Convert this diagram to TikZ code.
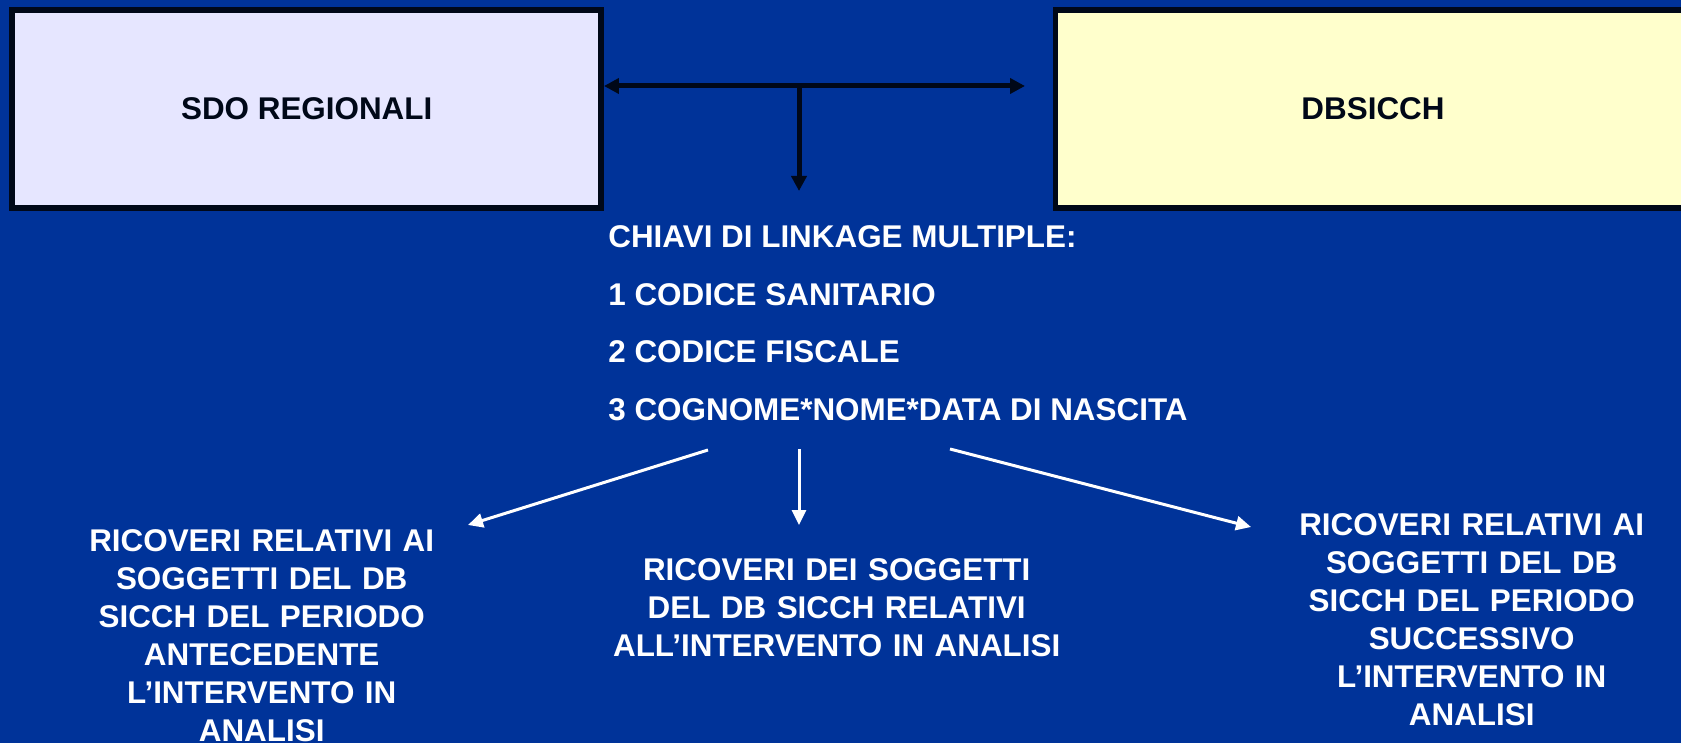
\documentclass[tikz,border=0pt]{standalone}
\usepackage{fontspec}
\setmainfont{Liberation Sans}
\usetikzlibrary{arrows.meta}
\definecolor{bgblue}{RGB}{0,51,153}
\definecolor{boxline}{RGB}{0,8,24}
\definecolor{lavender}{RGB}{230,230,255}
\definecolor{paleyellow}{RGB}{255,255,204}
\begin{document}
\begin{tikzpicture}[x=0.5pt,y=-0.5pt,
  font=\bfseries\fontsize{15.7}{19}\selectfont,
  dbbox/.style={draw=boxline, line width=2.75pt, inner sep=0pt, text=boxline, minimum height=99pt},
  keyline/.style={anchor=base west, inner sep=0pt, text=white},
  result/.style={anchor=base, inner sep=0pt, text=white, align=center, text width=230pt},
  blackarrow/.style={draw=boxline, line width=2.5pt},
  whitearrow/.style={draw=white, line width=1.5pt, -{Triangle[length=7.5pt,width=7pt]}},
  btip/.tip={Triangle[length=7.5pt,width=7.5pt]}]
\useasboundingbox (0,0) rectangle (1681,743);
\clip (0,0) rectangle (1681,743);
\fill[bgblue] (0,0) rectangle (1681,743);

% database boxes
\node[dbbox, fill=lavender, minimum width=294.5pt] (sdo) at (306.7,109) {SDO REGIONALI};
\node[dbbox, fill=paleyellow, minimum width=317.5pt] (db) at (1373,109) {DBSICCH};

% linkage arrows
\coordinate (hj) at (799,86);
\coordinate (hend) at (1025,86);
\coordinate (vend) at (799,191);
\draw[blackarrow, btip-btip] (sdo.east |- hj) -- (hend);
\draw[blackarrow, -btip] (hj) -- (vend);

% linkage keys
\node[keyline] (k0) at (608,247.3) {CHIAVI DI LINKAGE MULTIPLE:};
\node[keyline] (k1) at (608,306) {1 CODICE SANITARIO};
\node[keyline] (k2) at (608,362.7) {2 CODICE FISCALE};
\node[keyline] (k3) at (608,420) {3 COGNOME*NOME*DATA DI NASCITA};

% results
\node[result] (rprev) at (261.7,551.7) {RICOVERI RELATIVI AI\\SOGGETTI DEL DB\\SICCH DEL PERIODO\\ANTECEDENTE\\L’INTERVENTO IN\\ANALISI};
\node[result] (rcur) at (836.7,580.7) {RICOVERI DEI SOGGETTI\\DEL DB SICCH RELATIVI\\ALL’INTERVENTO IN ANALISI};
\node[result] (rnext) at (1471.7,535) {RICOVERI RELATIVI AI\\SOGGETTI DEL DB\\SICCH DEL PERIODO\\SUCCESSIVO\\L’INTERVENTO IN\\ANALISI};

% result arrows
\coordinate (a1s) at (708,450);
\coordinate (a1e) at (468,525);
\coordinate (a2s) at (799,449);
\coordinate (a2e) at (799,525);
\coordinate (a3s) at (950,449);
\coordinate (a3e) at (1251,527);
\draw[whitearrow] (a1s) -- (a1e);
\draw[whitearrow] (a2s) -- (a2e);
\draw[whitearrow] (a3s) -- (a3e);
\end{tikzpicture}
\end{document}
